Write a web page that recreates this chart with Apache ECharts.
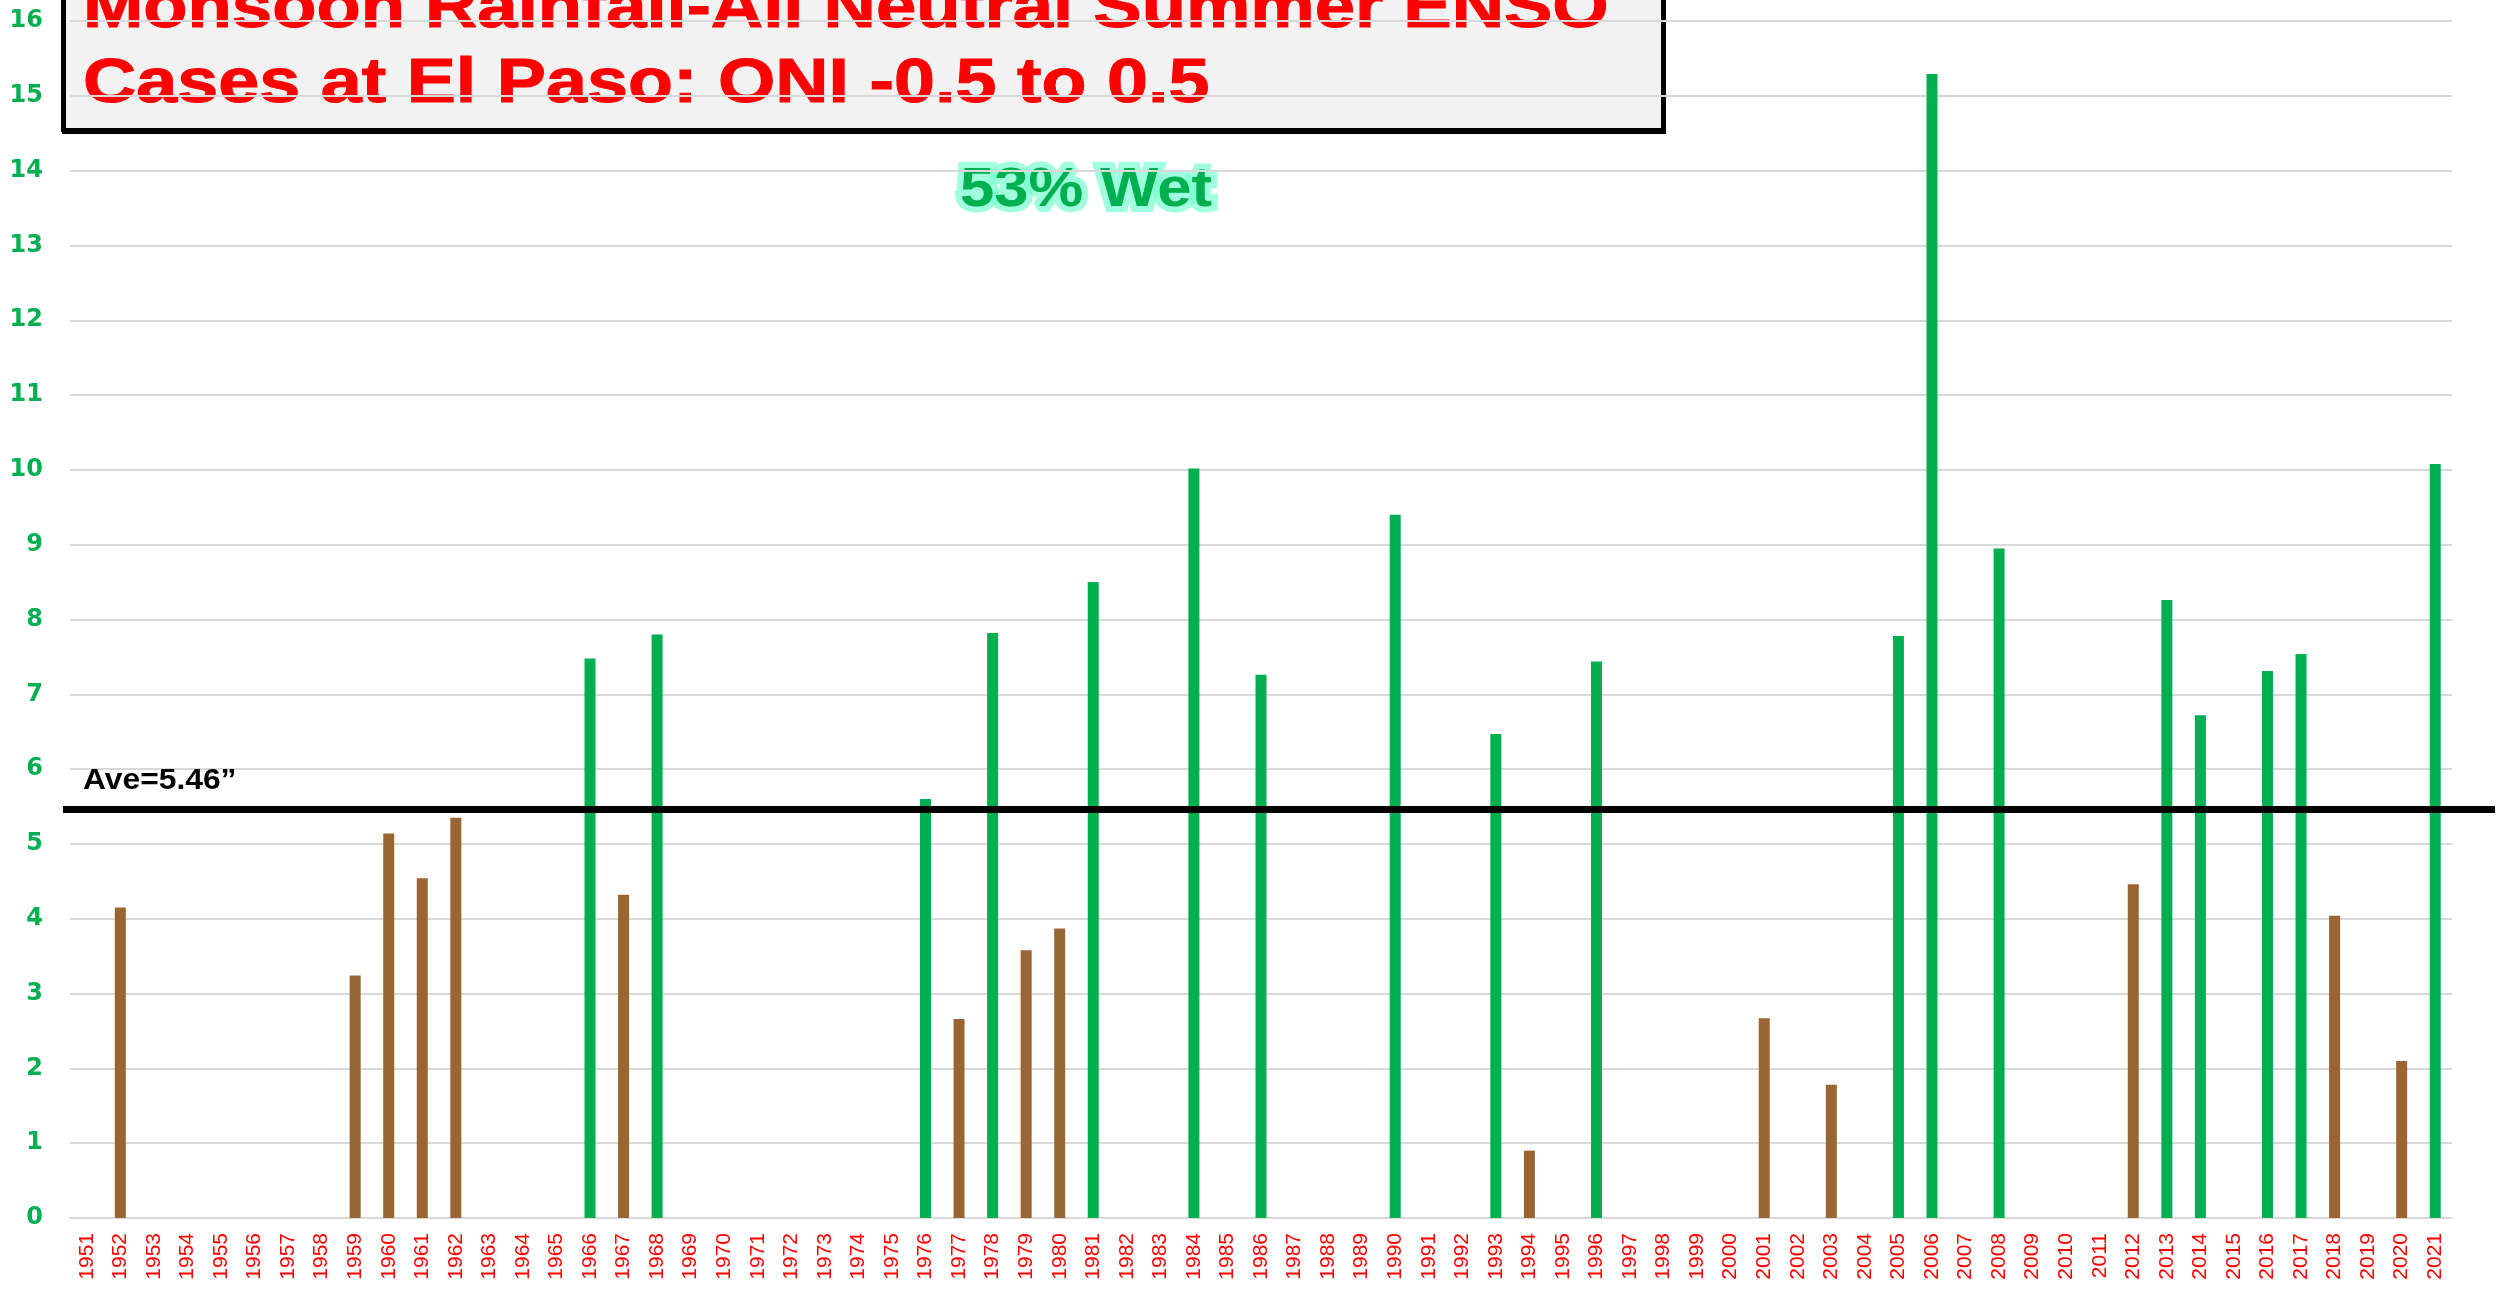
<!DOCTYPE html>
<html>
<head>
<meta charset="utf-8">
<title>Monsoon Rainfall - Neutral Summer ENSO at El Paso</title>
<script src="https://cdn.jsdelivr.net/npm/echarts@6/dist/echarts.min.js"></script>
<style>
  html, body { margin: 0; padding: 0; background: #fff; }
  #chart { width: 2509px; height: 1290px; }
</style>
</head>
<body>
<div id="chart"></div>
<script>
// categories (years on the x axis)
var years = [
  "1951", "1952", "1953", "1954", "1955", "1956", "1957", "1958", "1959", "1960",
  "1961", "1962", "1963", "1964", "1965", "1966", "1967", "1968", "1969", "1970",
  "1971", "1972", "1973", "1974", "1975", "1976", "1977", "1978", "1979", "1980",
  "1981", "1982", "1983", "1984", "1985", "1986", "1987", "1988", "1989", "1990",
  "1991", "1992", "1993", "1994", "1995", "1996", "1997", "1998", "1999", "2000",
  "2001", "2002", "2003", "2004", "2005", "2006", "2007", "2008", "2009", "2010",
  "2011", "2012", "2013", "2014", "2015", "2016", "2017", "2018", "2019", "2020",
  "2021"
];

// wet years (above average), inches
var wetYears = ["1966", "1968", "1976", "1978", "1981", "1984", "1986", "1990", "1993",
  "1996", "2005", "2006", "2008", "2013", "2014", "2016", "2017", "2021"];
var wetRain = [7.48, 7.80, 5.60, 7.82, 8.50, 10.02, 7.26, 9.40, 6.47,
  7.44, 7.78, 15.29, 8.95, 8.26, 6.72, 7.31, 7.54, 10.08];

// dry years (below average), inches
var dryYears = ["1952", "1959", "1960", "1961", "1962", "1967", "1977", "1979", "1980",
  "1994", "2001", "2003", "2012", "2018", "2020"];
var dryRain = [4.15, 3.24, 5.14, 4.54, 5.35, 4.32, 2.66, 3.58, 3.87,
  0.90, 2.67, 1.78, 4.46, 4.04, 2.10];

var aveRain = 5.46;
var yTicks = { min: 0, max: 16, interval: 1 };

var titleLines = ["Monsoon Rainfall-All Neutral Summer ENSO", "Cases at El Paso: ONI -0.5 to 0.5"];
var wetNote = "53% Wet";
var aveNote = "Ave=5.46\u201D";

var GREEN = "#00b050";
var BROWN = "#996633";
var boldFont = "Liberation Sans, Arial, sans-serif";

var chart = echarts.init(document.getElementById("chart"));

chart.setOption({
  animation: false,
  backgroundColor: "#ffffff",
  grid: {
    left: 70,
    right: 57,
    top: 21,
    bottom: 72
  },
  xAxis: {
    type: "category",
    data: years,
    axisLine: { lineStyle: { color: "#d9d9d9", width: 2 } },
    axisTick: { show: false },
    axisLabel: {
      interval: 0,
      rotate: 90,
      margin: 15,
      color: "#ff0000",
      fontSize: 21,
      fontFamily: "Liberation Sans, Arial, sans-serif"
    }
  },
  yAxis: {
    type: "value",
    min: yTicks.min,
    max: yTicks.max,
    interval: yTicks.interval,
    axisLine: { show: false },
    axisTick: { show: false },
    splitLine: { lineStyle: { color: "#d9d9d9", width: 2 } },
    axisLabel: {
      margin: 27,
      color: GREEN,
      fontSize: 24,
      fontWeight: "bold",
      fontFamily: "DejaVu Sans, sans-serif"
    }
  },
  series: [
    {
      name: "Dry",
      type: "bar",
      barWidth: 11,
      barGap: "-100%",
      itemStyle: { color: BROWN },
      data: dryYears.map(function (y, i) { return [y, dryRain[i]]; })
    },
    {
      name: "Wet",
      type: "bar",
      barWidth: 11,
      barGap: "-100%",
      itemStyle: { color: GREEN },
      data: wetYears.map(function (y, i) { return [y, wetRain[i]]; })
    }
  ],
  graphic: [
    {
      id: "titleBox",
      type: "group",
      z: 100,
      children: [
        {
          type: "rect",
          shape: { x: 63, y: -80, width: 1600, height: 210 },
          style: {
            fill: "#f2f2f2",
            stroke: "#000",
            lineWidth: 4,
            shadowColor: "#000",
            shadowOffsetX: 1,
            shadowOffsetY: 2,
            shadowBlur: 0
          }
        },
        {
          type: "text",
          x: 83,
          y: 10,
          scaleX: 1.15,
          style: {
            text: titleLines[0],
            font: "bold 63px " + boldFont,
            fill: "#ff0000",
            stroke: "#ff0000",
            lineWidth: 1,
            textAlign: "left",
            textVerticalAlign: "middle"
          }
        },
        {
          type: "text",
          x: 83,
          y: 85,
          scaleX: 1.17,
          style: {
            text: titleLines[1],
            font: "bold 63px " + boldFont,
            fill: "#ff0000",
            stroke: "#ff0000",
            lineWidth: 1,
            textAlign: "left",
            textVerticalAlign: "middle"
          }
        }
      ]
    },
    {
      id: "wetNote",
      type: "group",
      z: 90,
      x: 1086,
      y: 191,
      scaleX: 1.1,
      children: [
        {
          type: "text",
          style: {
            text: wetNote,
            font: "bold 56px " + boldFont,
            fill: "rgba(110,255,200,0.9)",
            stroke: "rgba(120,255,205,0.7)",
            lineWidth: 12,
            lineJoin: "round",
            shadowColor: "#66ffcc",
            shadowBlur: 16,
            textAlign: "center",
            textVerticalAlign: "middle"
          }
        },
        {
          type: "text",
          style: {
            text: wetNote,
            font: "bold 56px " + boldFont,
            fill: GREEN,
            textAlign: "center",
            textVerticalAlign: "middle"
          }
        }
      ]
    }
  ]
});

// average line + label, placed from the y axis scale
var aveY = chart.convertToPixel({ yAxisIndex: 0 }, aveRain);
chart.setOption({
  graphic: [
    {
      id: "aveLine",
      type: "line",
      z: 50,
      shape: { x1: 63, y1: aveY, x2: 2495, y2: aveY },
      style: { stroke: "#000", lineWidth: 7 }
    },
    {
      id: "aveNote",
      type: "text",
      z: 50,
      x: 83,
      y: aveY - 29,
      scaleX: 1.06,
      style: {
        text: aveNote,
        font: "bold 30px " + boldFont,
        fill: "#000",
        textAlign: "left",
        textVerticalAlign: "middle"
      }
    }
  ]
});
</script>
</body>
</html>
